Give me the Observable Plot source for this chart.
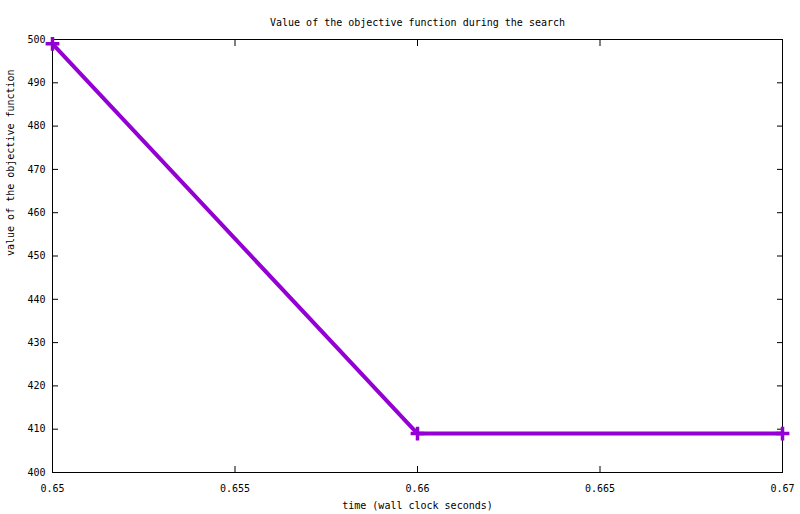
<!DOCTYPE html>
<html>
<head>
<meta charset="utf-8">
<script src="https://cdn.jsdelivr.net/npm/d3@7"></script>
<script src="https://cdn.jsdelivr.net/npm/@observablehq/plot@0.6"></script>
<style>
  html, body { margin: 0; padding: 0; background: #fff; }
  svg { display: block; }
</style>
</head>
<body>
<div id="chart"></div>
<script>
const title = "Value of the objective function during the search";
const xLabel = "time (wall clock seconds)";
const yLabel = "value of the objective function";
const times = [0.65, 0.66, 0.67];
const values = [499, 409, 409];
const xTicks = [0.65, 0.655, 0.66, 0.665, 0.67];
const xTickLabels = ["0.65", "0.655", "0.66", "0.665", "0.67"];
const yTicks = [400, 410, 420, 430, 440, 450, 460, 470, 480, 490, 500];

const data = times.map((t, i) => ({t, v: values[i]}));
const color = "#9400d3";
const font = "'DejaVu Sans Mono', 'Liberation Mono', monospace";

const chart = Plot.plot({
  width: 800,
  height: 514,
  marginTop: 39,
  marginLeft: 52,
  marginRight: 18,
  marginBottom: 42,
  style: {fontFamily: font, fontSize: "10px", color: "#000", background: "#fff", overflow: "visible"},
  x: {domain: [0.65, 0.67]},
  y: {domain: [400, 500]},
  marks: [
    Plot.frame({stroke: "#000", strokeWidth: 1}),
    Plot.axisX({ticks: xTicks, tickFormat: (d, i) => xTickLabels[i], tickSize: -6, tickPadding: 18, label: null, anchor: "bottom"}),
    Plot.axisX({ticks: xTicks, tickFormat: () => "", tickSize: -6, label: null, anchor: "top"}),
    Plot.axisY({ticks: yTicks, tickSize: -6, tickPadding: 13, label: null, anchor: "left"}),
    Plot.axisY({ticks: yTicks, tickFormat: () => "", tickSize: -6, label: null, anchor: "right"}),
    Plot.line(data, {x: "t", y: "v", stroke: color, strokeWidth: 4}),
    Plot.dot(data, {x: "t", y: "v", symbol: "plus", stroke: color, strokeWidth: 3.5, r: 4.5}),
    Plot.text([title], {frameAnchor: "top", dy: -21, text: d => d, fontSize: 10}),
    Plot.text([xLabel], {frameAnchor: "bottom", dy: 36, text: d => d, fontSize: 10}),
    Plot.text([yLabel], {frameAnchor: "left", dx: -42, rotate: -90, text: d => d, fontSize: 10})
  ]
});
document.getElementById("chart").appendChild(chart);
</script>
</body>
</html>
